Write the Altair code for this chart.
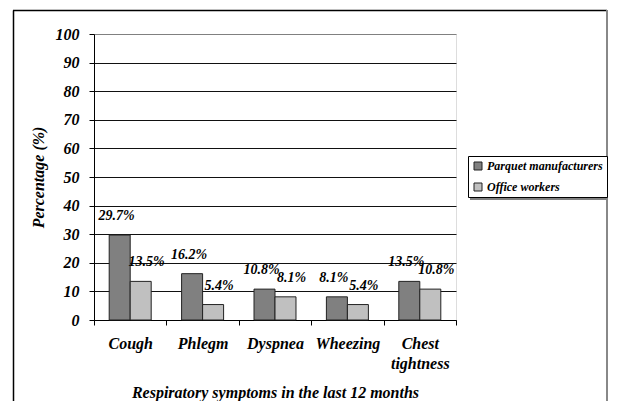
import altair as alt
import pandas as pd

symptoms = ["Cough", "Phlegm", "Dyspnea", "Wheezing", "Chest tightness"]
parquet = [29.7, 16.2, 10.8, 8.1, 13.5]
office = [13.5, 5.4, 8.1, 5.4, 10.8]
groups = ["Parquet manufacturers", "Office workers"]
colors = ["#808080", "#c0c0c0"]
y_ticks = list(range(0, 101, 10))

rows = []
for s, p, o in zip(symptoms, parquet, office):
    rows.append({"symptom": s, "group": groups[0], "value": p, "label": f"{p}%"})
    rows.append({"symptom": s, "group": groups[1], "value": o, "label": f"{o}%"})
df = pd.DataFrame(rows)

FONT = "Liberation Serif"
W, H = 362, 286

x_enc = alt.X(
    "symptom:N", sort=symptoms,
    scale=alt.Scale(paddingInner=0, paddingOuter=0),
    axis=alt.Axis(
        title="Respiratory symptoms in the last 12 months",
        labelAngle=0, labelExpr="split(datum.label, ' ')",
        tickBand="extent", tickSize=5, tickColor="black", domainColor="black",
        labelFont=FONT, labelFontSize=16, labelFontStyle="italic", labelFontWeight="bold",
        labelColor="black", labelPadding=10, labelLineHeight=20, labelBaseline="top",
        labelOverlap=False,
        titleFont=FONT, titleFontSize=16, titleFontStyle="italic", titleFontWeight="bold",
        titleColor="black", titleBaseline="alphabetic", titleY=77,
    ),
)
xoff = alt.XOffset("group:N", sort=groups,
                   scale=alt.Scale(paddingInner=0, paddingOuter=0.724))
y_enc = alt.Y(
    "value:Q", scale=alt.Scale(domain=[0, 100]),
    axis=alt.Axis(
        values=y_ticks, tickCount=len(y_ticks) + 1, title="Percentage (%)",
        grid=True, labelOverlap=False,
        gridColor={"condition": {"test": "datum.value === 100", "value": "#808080"}, "value": "#111111"},
        gridWidth=1,
        tickSize=5, tickColor="black", domainColor="black",
        labelFont=FONT, labelFontSize=16, labelFontStyle="italic", labelFontWeight="bold",
        labelColor="black", labelPadding=10,
        titleFont=FONT, titleFontSize=16, titleFontStyle="italic", titleFontWeight="bold",
        titleColor="black", titlePadding=9,
    ),
)

base = alt.Chart(df).encode(x=x_enc, xOffset=xoff, y=y_enc)

bars = base.mark_bar(stroke="#222222", strokeWidth=1).encode(
    color=alt.Color(
        "group:N", sort=groups,
        scale=alt.Scale(domain=groups, range=colors),
        legend=alt.Legend(
            title=None, orient="none", legendX=374, legendY=122,
            strokeColor="black", fillColor="white", padding=4,
            symbolType="square", symbolSize=64, symbolStrokeColor="#222222",
            symbolStrokeWidth=1,
            labelFont=FONT, labelFontSize=12, labelFontStyle="italic",
            labelFontWeight="bold", labelColor="black", labelOffset=3, rowPadding=9,
        ),
    ),
)

text_style = dict(font=FONT, fontSize=14, fontStyle="italic", fontWeight="bold",
                  color="black", baseline="alphabetic", dy=-15)
labels_dark = base.transform_filter(
    alt.datum.group == groups[0]
).mark_text(dx=-3, **text_style).encode(text="label:N")
labels_light = base.transform_filter(
    alt.datum.group == groups[1]
).mark_text(dx=6, **text_style).encode(text="label:N")

one = alt.Data(values=[{}])
frame_left = alt.Chart(one).mark_rule(color="black", strokeWidth=1.5).encode(
    x=alt.value(-80.5), y=alt.value(-23.5), y2=alt.value(400))
frame_top = alt.Chart(one).mark_rule(color="black", strokeWidth=1.5).encode(
    x=alt.value(-81), x2=alt.value(513), y=alt.value(-23.5))
frame_right = alt.Chart(one).mark_rule(color="#888888", strokeWidth=2).encode(
    x=alt.value(513), y=alt.value(-24), y2=alt.value(400))
shadow = alt.Chart(one).mark_rect(color="#808080").encode(
    x=alt.value(376), x2=alt.value(512), y=alt.value(124), y2=alt.value(166))

chart = alt.layer(frame_left, frame_top, frame_right, shadow, bars, labels_dark, labels_light).properties(
    width=W, height=H,
    autosize=alt.AutoSizeParams(type="none"),
    padding={"left": 86, "top": 26, "right": 153, "bottom": 81},
).configure_view(stroke="#aaaaaa", strokeWidth=1.5).configure(background="white")

chart.save("out.html", embed_options={"renderer": "svg", "actions": False})
